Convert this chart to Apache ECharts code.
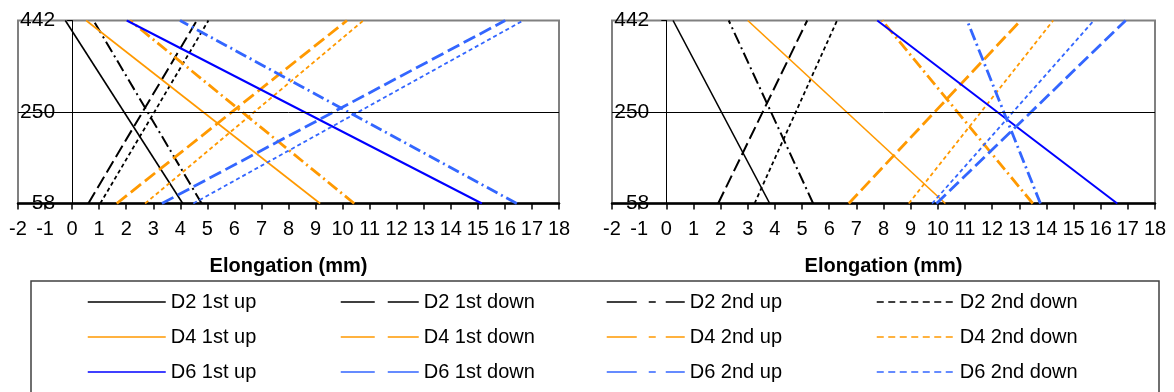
<!DOCTYPE html>
<html><head><meta charset="utf-8">
<script src="https://cdn.jsdelivr.net/npm/echarts@6/dist/echarts.min.js"></script>
<style>html,body{margin:0;padding:0;background:#fff}#c{width:1174px;height:392px}</style>
</head><body><div id="c"></div>
<script>
// ---------- data ----------
const seriesNames = [
  'D2 1st up','D2 1st down','D2 2nd up','D2 2nd down',
  'D4 1st up','D4 1st down','D4 2nd up','D4 2nd down',
  'D6 1st up','D6 1st down','D6 2nd up','D6 2nd down'
];
const yLow = 58;
const yHigh = 442;
const yTicks = [58, 250, 442];
const refLineY = 250;
const xMin = -2;
const xMax = 18;
// elongation (mm) at load 58 and at load 442, left chart
const leftX58  = [4.09, 0.60, 4.79, 1.04, 9.17, 1.65, 10.43, 2.70, 15.15, 3.32, 16.44, 4.48];
const leftX442 = [-0.25, 4.61, 0.79, 5.04, 0.52, 10.16, 2.14, 10.77, 2.02, 16.01, 3.99, 16.68];
// right chart
const rightX58  = [3.81, 1.91, 5.41, 3.25, 10.28, 6.72, 13.50, 8.93, 16.61, 9.95, 13.78, 9.79];
const rightX442 = [0.25, 5.19, 2.30, 6.29, 3.00, 13.05, 7.95, 14.25, 7.77, 16.92, 11.08, 15.75];

// ---------- styles ----------
const FONT = "'Liberation Sans', Arial, sans-serif";
const groupColor = ['#000000', '#FF9900', '#3366FF'];
function colorOf(i) {
  const g = Math.floor(i / 4);
  if (g === 2 && i % 4 === 0) return '#0000FF';
  return groupColor[g];
}
const plotDash = ['solid', [13, 5], [12, 4, 2, 4], [4, 3]];
const legendDash = ['solid', [34, 13], [30, 12, 7, 10], [7, 4.5]];
function widthOf(i) {
  const k = i % 4, g = Math.floor(i / 4);
  if (k === 0) return g === 2 ? 2 : 1.6;
  if (k === 3) return 1.8;
  return g === 0 ? 2 : 2.8;
}

const grids = [
  { left: 18, top: 20.5, width: 541, height: 183 },
  { left: 612, top: 20.5, width: 543, height: 183 }
];
const xData = [[leftX58, leftX442], [rightX58, rightX442]];

const xAxes = grids.map((g, gi) => ({
  type: 'value', gridIndex: gi, min: xMin, max: xMax, interval: 1,
  position: 'bottom',
  axisLine: { onZero: false, lineStyle: { color: '#000', width: 2.5 } },
  axisTick: { show: true, length: 6, lineStyle: { color: '#000', width: 1.5 } },
  splitLine: { show: false },
  axisLabel: { interval: 0, margin: 16, fontSize: 20, color: '#000', fontFamily: FONT,
    showMinLabel: true, showMaxLabel: true },
  name: 'Elongation (mm)', nameLocation: 'middle', nameGap: 53,
  nameTextStyle: { fontSize: 20, fontWeight: 'bold', color: '#000', fontFamily: FONT }
}));
// y axis sits at elongation 0: shift it from the grid's left edge by the scale position of 0
const yAxes = grids.map((g, gi) => ({
  type: 'value', gridIndex: gi, min: yLow, max: yHigh, position: 'left',
  offset: -((0 - xMin) / (xMax - xMin)) * g.width,
  axisLine: { show: true, onZero: false, lineStyle: { color: '#000', width: 1 } },
  axisTick: { show: true, length: 5, customValues: yTicks, lineStyle: { color: '#000', width: 1 } },
  splitLine: { show: false },
  axisLabel: { customValues: yTicks, margin: 17, fontSize: 21, color: '#000', fontFamily: FONT,
    showMinLabel: true, showMaxLabel: true }
}));

const series = [];
for (let gi = 0; gi < 2; gi++) {
  series.push({
    type: 'line', name: 'ref', xAxisIndex: gi, yAxisIndex: gi, data: [],
    silent: true, animation: false,
    markLine: { silent: true, symbol: ['none', 'none'], label: { show: false },
      lineStyle: { color: '#000', width: 1, type: 'solid' },
      data: [{ yAxis: refLineY }] }
  });
  for (let i = 0; i < seriesNames.length; i++) {
    series.push({
      type: 'line', name: seriesNames[i], xAxisIndex: gi, yAxisIndex: gi,
      data: [[xData[gi][0][i], yLow], [xData[gi][1][i], yHigh]],
      symbol: 'none', showSymbol: false, clip: true, silent: true, animation: false,
      color: colorOf(i),
      lineStyle: { color: colorOf(i), width: widthOf(i), type: plotDash[i % 4] }
    });
  }
}

const colLeft = [87, 340, 606, 876];
const legends = colLeft.map((lx, c) => ({
  orient: 'vertical', left: lx, top: 292, padding: 0,
  itemWidth: 78, itemHeight: 14, itemGap: 15,
  selectedMode: false,
  itemStyle: { opacity: 0, color: 'rgba(0,0,0,0)', borderColor: 'rgba(0,0,0,0)', borderWidth: 0 },
  textStyle: { fontSize: 20, lineHeight: 20, color: '#000', fontFamily: FONT },
  data: [0, 1, 2].map(r => {
    const i = r * 4 + c;
    return { name: seriesNames[i],
      itemStyle: { opacity: 0, color: 'rgba(0,0,0,0)', borderColor: 'rgba(0,0,0,0)', borderWidth: 0 },
      lineStyle: { color: colorOf(i), width: 1.5, type: legendDash[i % 4], opacity: 1 } };
  })
}));

const chart = echarts.init(document.getElementById('c'), null, { renderer: 'canvas' });
chart.setOption({
  animation: false,
  backgroundColor: '#fff',
  grid: grids.map(g => Object.assign({ show: true, borderColor: '#808080', borderWidth: 2,
    backgroundColor: 'transparent', containLabel: false, outerBoundsMode: 'none' }, g)),
  xAxis: xAxes,
  yAxis: yAxes,
  legend: legends,
  graphic: [{
    type: 'rect', shape: { x: 31, y: 281, width: 1128, height: 140 },
    style: { fill: 'none', stroke: '#404040', lineWidth: 1.5 }, z: -1, silent: true
  }],
  series: series
});
</script></body></html>
